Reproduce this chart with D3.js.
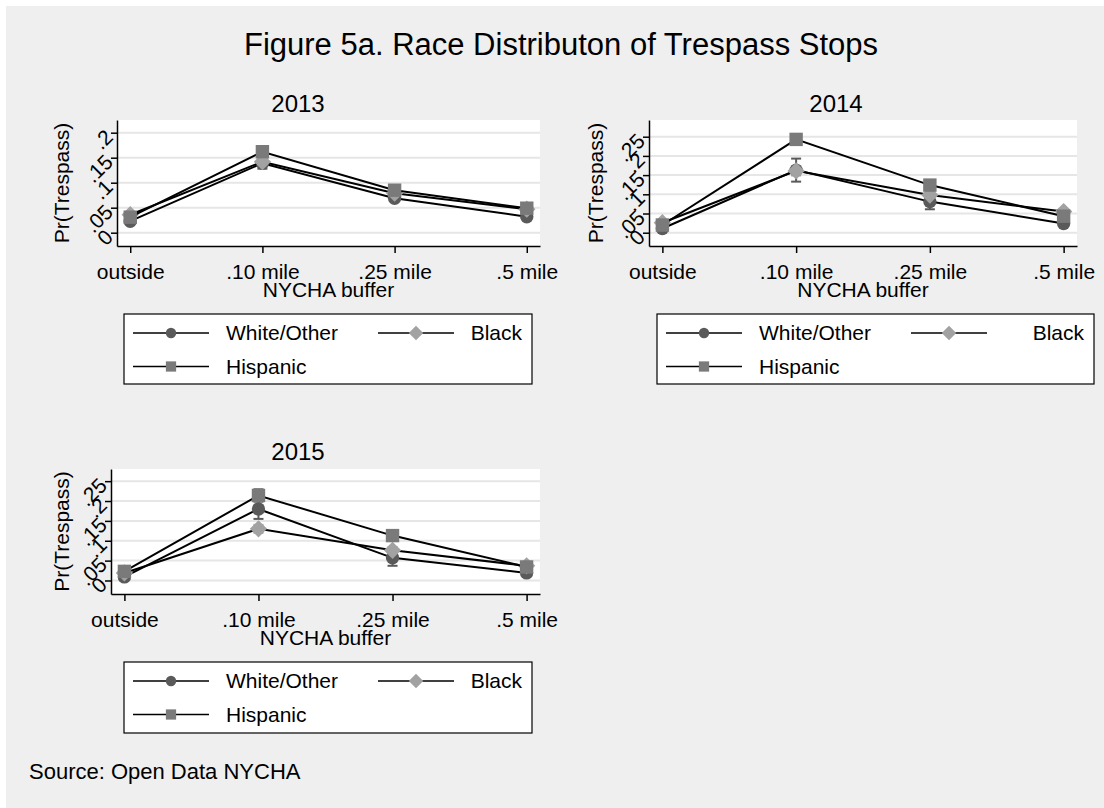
<!DOCTYPE html>
<html>
<head>
<meta charset="utf-8">
<script src="https://cdn.jsdelivr.net/npm/d3@7"></script>
<style>
  body { margin: 0; background: #fff; }
  text { font-family: "Liberation Sans", Arial, sans-serif; fill: #000; }
</style>
</head>
<body>
<div id="canvas"></div>
<script>
const categories = ["outside", ".10 mile", ".25 mile", ".5 mile"];
const races = ["White/Other", "Black", "Hispanic"];
const years = ["2013", "2014", "2015"];

// predicted Pr(Trespass) by buffer
const white2013 = [0.023, 0.139, 0.069, 0.032];
const black2013 = [0.036, 0.142, 0.079, 0.047];
const hisp2013 = [0.031, 0.162, 0.085, 0.049];
const white2014 = [0.011, 0.163, 0.081, 0.024];
const black2014 = [0.026, 0.161, 0.098, 0.055];
const hisp2014 = [0.020, 0.243, 0.124, 0.043];
const white2015 = [0.009, 0.180, 0.057, 0.019];
const black2015 = [0.019, 0.130, 0.076, 0.037];
const hisp2015 = [0.023, 0.214, 0.113, 0.034];

// half width of the confidence intervals
const whiteErr2013 = [0.003, 0.011, 0.005, 0.003];
const blackErr2013 = [0.003, 0.007, 0.004, 0.003];
const hispErr2013 = [0.002, 0.006, 0.004, 0.003];
const whiteErr2014 = [0.003, 0.030, 0.020, 0.004];
const blackErr2014 = [0.003, 0.012, 0.008, 0.005];
const hispErr2014 = [0.002, 0.008, 0.007, 0.004];
const whiteErr2015 = [0.002, 0.025, 0.020, 0.003];
const blackErr2015 = [0.003, 0.010, 0.008, 0.004];
const hispErr2015 = [0.002, 0.016, 0.009, 0.004];

const yTicks2013 = [0, 0.05, 0.1, 0.15, 0.2];
const yTicks2014 = [0, 0.05, 0.1, 0.15, 0.2, 0.25];
const yTicks2015 = [0, 0.05, 0.1, 0.15, 0.2, 0.25];

const colors = ["#5a5a5a", "#a2a2a2", "#7a7a7a"];
const symbols = [d3.symbolCircle, d3.symbolSquare, d3.symbolSquare];
const rotations = [0, 45, 0];
const markerSizes = [140, 150, 180];
const legendSizes = [85, 105, 105];

const panels = [
    { year: years[0], left: 117, right: 540, top: 120, bottom: 246, yDomain: [-0.0266, 0.2254], ticks: yTicks2013,
      values: [white2013, black2013, hisp2013], errs: [whiteErr2013, blackErr2013, hispErr2013],
      center: 298, titleY: 112, yLabelX: 62, legend: { x: 124, y: 314, w: 408, h: 70 } },
    { year: years[1], left: 649, right: 1077, top: 120, bottom: 246, yDomain: [-0.0346, 0.2935], ticks: yTicks2014,
      values: [white2014, black2014, hisp2014], errs: [whiteErr2014, blackErr2014, hispErr2014],
      center: 836, titleY: 112, yLabelX: 596, legend: { x: 657, y: 314, w: 437, h: 70 } },
    { year: years[2], left: 111, right: 540, top: 469, bottom: 594, yDomain: [-0.034, 0.2806], ticks: yTicks2015,
      values: [white2015, black2015, hisp2015], errs: [whiteErr2015, blackErr2015, hispErr2015],
      center: 298, titleY: 460, yLabelX: 62, legend: { x: 124, y: 662, w: 408, h: 71 } }
];

const width = 1104, height = 808;

const svg = d3.select("#canvas")
    .append("svg")
    .attr("width", width)
    .attr("height", height);

svg.append("rect").attr("width", width).attr("height", height).attr("fill", "#fff");
svg.append("rect").attr("x", 6).attr("y", 6).attr("width", width - 6).attr("height", height - 6).attr("fill", "#efefef");

svg.append("text")
    .attr("x", 561).attr("y", 55)
    .attr("text-anchor", "middle")
    .attr("font-size", 31)
    .text("Figure 5a. Race Distributon of Trespass Stops");

svg.append("text")
    .attr("x", 29).attr("y", 779)
    .attr("font-size", 22)
    .text("Source: Open Data NYCHA");

const fmt = d => d === 0 ? "0" : String(d).replace(/^0/, "");

panels.forEach(p => {
    const g = svg.append("g");

    const x = d3.scalePoint()
        .domain(categories)
        .range([p.left, p.right])
        .padding(0.1);

    const y = d3.scaleLinear()
        .domain(p.yDomain)
        .range([p.bottom, p.top]);

    g.append("rect")
        .attr("x", p.left).attr("y", p.top)
        .attr("width", p.right - p.left).attr("height", p.bottom - p.top)
        .attr("fill", "#fff");

    g.append("g")
        .selectAll("line")
        .data(p.ticks)
        .join("line")
        .attr("x1", p.left).attr("x2", p.right)
        .attr("y1", d => y(d)).attr("y2", d => y(d))
        .attr("stroke", "#e6e6e6")
        .attr("stroke-width", 2);

    const xAxis = g.append("g")
        .attr("transform", `translate(0,${p.bottom})`)
        .call(d3.axisBottom(x).tickSize(7).tickSizeOuter(0).tickPadding(11));
    xAxis.select(".domain").attr("stroke", "#000").attr("stroke-width", 1.5);
    xAxis.selectAll(".tick line").attr("stroke", "#000").attr("stroke-width", 1.5);
    xAxis.selectAll(".tick text")
        .attr("font-size", 21)
        .attr("font-family", "Liberation Sans, Arial, sans-serif")
        .attr("fill", "#000");

    const yAxis = g.append("g")
        .attr("transform", `translate(${p.left},0)`)
        .call(d3.axisLeft(y).tickValues(p.ticks).tickFormat(fmt).tickSize(6).tickSizeOuter(0));
    yAxis.select(".domain").attr("stroke", "#000").attr("stroke-width", 1.5);
    yAxis.selectAll(".tick line").attr("stroke", "#000").attr("stroke-width", 1.5);
    yAxis.selectAll(".tick text")
        .attr("font-size", 21)
        .attr("font-family", "Liberation Sans, Arial, sans-serif")
        .attr("fill", "#000")
        .attr("x", -8)
        .attr("dy", "0.35em")
        .attr("text-anchor", "end")
        .attr("transform", "rotate(-45,-8,0)");

    g.append("text")
        .attr("x", (p.left + p.right) / 2)
        .attr("y", p.bottom + 51)
        .attr("text-anchor", "middle")
        .attr("font-size", 21)
        .text("NYCHA buffer");

    g.append("text")
        .attr("transform", `translate(${p.yLabelX},${(p.top + p.bottom) / 2}) rotate(-90)`)
        .attr("text-anchor", "middle")
        .attr("dy", "0.35em")
        .attr("font-size", 21)
        .text("Pr(Trespass)");

    g.append("text")
        .attr("x", p.center).attr("y", p.titleY)
        .attr("text-anchor", "middle")
        .attr("font-size", 24)
        .text(p.year);

    // confidence intervals
    p.values.forEach((vals, i) => {
        const ci = g.append("g").attr("stroke", colors[i]).attr("stroke-width", 2);
        vals.forEach((v, j) => {
            const cx = x(categories[j]);
            const lo = y(v - p.errs[i][j]), hi = y(v + p.errs[i][j]);
            ci.append("line").attr("x1", cx).attr("x2", cx).attr("y1", lo).attr("y2", hi);
            ci.append("line").attr("x1", cx - 5).attr("x2", cx + 5).attr("y1", lo).attr("y2", lo);
            ci.append("line").attr("x1", cx - 5).attr("x2", cx + 5).attr("y1", hi).attr("y2", hi);
        });
    });

    p.values.forEach((vals, i) => {
        g.append("path")
            .datum(vals)
            .attr("fill", "none")
            .attr("stroke", "#000")
            .attr("stroke-width", 2)
            .attr("d", d3.line()
                .x((d, j) => x(categories[j]))
                .y(d => y(d)));

        g.append("g")
            .selectAll("path")
            .data(vals)
            .join("path")
            .attr("transform", (d, j) => `translate(${x(categories[j])},${y(d)}) rotate(${rotations[i]})`)
            .attr("d", d3.symbol().type(symbols[i]).size(markerSizes[i]))
            .attr("fill", colors[i]);
    });

    // legend
    const L = p.legend;
    const lg = g.append("g");
    lg.append("rect")
        .attr("x", L.x).attr("y", L.y)
        .attr("width", L.w).attr("height", L.h)
        .attr("fill", "#fff")
        .attr("stroke", "#000")
        .attr("stroke-width", 1.2);

    const items = [
        { x0: L.x + 9, row: 0, tx: L.x + 102, anchor: "start" },
        { x0: L.x + 254, row: 0, tx: L.x + L.w - 10, anchor: "end" },
        { x0: L.x + 9, row: 1, tx: L.x + 102, anchor: "start" }
    ];
    items.forEach((it, i) => {
        const cy = L.y + 19 + it.row * 33.5;
        lg.append("line")
            .attr("x1", it.x0).attr("x2", it.x0 + 76)
            .attr("y1", cy).attr("y2", cy)
            .attr("stroke", "#000").attr("stroke-width", 1.5);
        lg.append("path")
            .attr("transform", `translate(${it.x0 + 38},${cy}) rotate(${rotations[i]})`)
            .attr("d", d3.symbol().type(symbols[i]).size(legendSizes[i]))
            .attr("fill", colors[i]);
        lg.append("text")
            .attr("x", it.tx).attr("y", cy)
            .attr("dy", "0.35em")
            .attr("text-anchor", it.anchor)
            .attr("font-size", 21)
            .text(races[i]);
    });
});
</script>
</body>
</html>
